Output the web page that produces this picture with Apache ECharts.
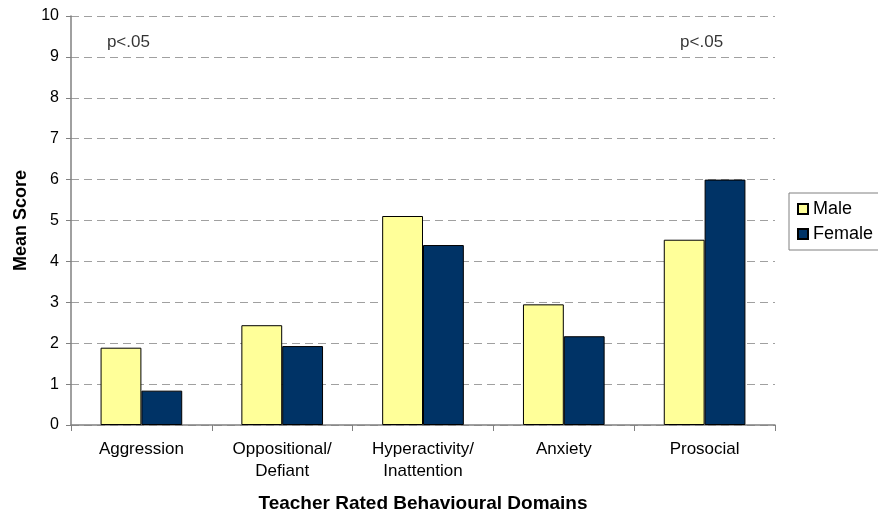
<!DOCTYPE html>
<html>
<head>
<meta charset="utf-8">
<script src="https://cdn.jsdelivr.net/npm/echarts@6/dist/echarts.min.js"></script>
<style>
  html, body { margin: 0; padding: 0; background: #fff; }
  #main { width: 878px; height: 518px; }
</style>
</head>
<body>
<div id="main"></div>
<script>
var categories = ['Aggression', 'Oppositional/\nDefiant', 'Hyperactivity/\nInattention', 'Anxiety', 'Prosocial'];
var maleScores = [1.89, 2.44, 5.11, 2.95, 4.53];
var femaleScores = [0.84, 1.93, 4.40, 2.17, 6.0];
var yTicks = [0, 1, 2, 3, 4, 5, 6, 7, 8, 9, 10];
var annotations = ['p<.05', '', '', '', 'p<.05'];

var font = 'Liberation Sans, Arial, sans-serif';
var myChart = echarts.init(document.getElementById('main'));

// significance notes sit near the top of their category column
var noteData = [];
annotations.forEach(function (t, i) {
    if (!t) return;
    noteData.push({
        value: [i, 9.5],
        note: t,
        label: { offset: [i === 0 ? -13 : -3, 6] }
    });
});

var option = {
    animation: false,
    grid: { left: 71, right: 103, top: 16, bottom: 92, containLabel: false },
    legend: {
        orient: 'vertical',
        left: 789,
        top: 193,
        width: 89,
        padding: [7, 10, 7, 8],
        itemGap: 7,
        itemWidth: 10,
        itemHeight: 10,
        borderColor: '#808080',
        borderWidth: 1,
        icon: 'rect',
        textStyle: { fontFamily: font, fontSize: 18, color: '#000' },
        data: ['Male', 'Female']
    },
    xAxis: {
        type: 'category',
        data: categories,
        name: 'Teacher Rated Behavioural Domains',
        nameLocation: 'middle',
        nameGap: 69,
        nameTextStyle: { fontFamily: font, fontSize: 19, fontWeight: 'bold', color: '#000' },
        axisLine: { lineStyle: { color: '#808080', width: 1.5 } },
        axisTick: { show: true, alignWithLabel: false, length: 6, lineStyle: { color: '#808080' } },
        axisLabel: { fontFamily: font, fontSize: 17, color: '#000', margin: 13, lineHeight: 22 }
    },
    yAxis: {
        type: 'value',
        min: yTicks[0],
        max: yTicks[yTicks.length - 1],
        interval: 1,
        name: 'Mean Score',
        nameLocation: 'middle',
        nameGap: 41,
        nameRotate: 90,
        nameTextStyle: { fontFamily: font, fontSize: 18, fontWeight: 'bold', color: '#000' },
        axisLine: { show: true, lineStyle: { color: '#808080', width: 1.5 } },
        axisTick: { show: true, length: 5, lineStyle: { color: '#808080' } },
        axisLabel: { fontFamily: font, fontSize: 16, color: '#000', margin: 12 },
        splitLine: { show: true, lineStyle: { color: '#a0a0a0', type: [8, 5], width: 1 } }
    },
    series: [
        {
            name: 'Male',
            type: 'bar',
            data: maleScores,
            barGap: '0%',
            barCategoryGap: '42%',
            itemStyle: { color: '#FFFF99', borderColor: '#000', borderWidth: 1 }
        },
        {
            name: 'Female',
            type: 'bar',
            data: femaleScores,
            itemStyle: { color: '#003366', borderColor: '#000', borderWidth: 1 }
        },
        {
            name: 'notes',
            type: 'scatter',
            symbolSize: 0,
            silent: true,
            data: noteData,
            label: {
                show: true,
                position: 'inside',
                fontFamily: font,
                fontSize: 17,
                color: '#000',
                formatter: function (p) { return p.data.note; }
            }
        }
    ]
};
myChart.setOption(option);
</script>
</body>
</html>
